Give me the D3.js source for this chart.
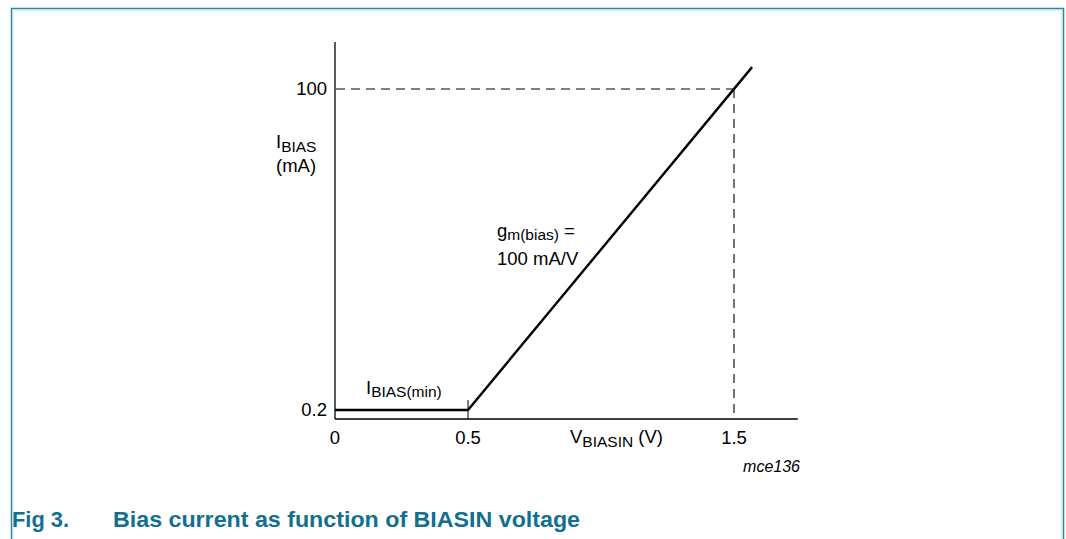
<!DOCTYPE html>
<html>
<head>
<meta charset="utf-8">
<script src="https://cdn.jsdelivr.net/npm/d3@7"></script>
<style>
  html, body { margin: 0; padding: 0; background: #fff; }
  svg { display: block; font-family: "Liberation Sans", Arial, sans-serif; }
</style>
</head>
<body>
<svg id="chart" width="1066" height="539"></svg>
<script>
// Schematic curve: flat minimum then 100 mA/V ramp
const curveV = [0, 0.5, 1.568];
const curveI = [0.2, 0.2, 106.8];
const xTicks = [0, 0.5, 1.5];
const xTickLabels = ['0', '0.5', '1.5'];
const yTicks = [0.2, 100];
const yTickLabels = ['0.2', '100'];
const markV = 1.5;   // dashed reference point
const markI = 100;

const svg = d3.select('#chart');
const FS = 18.5, SUB = 15.5;

// outer frame
svg.append('path')
  .attr('d', 'M11.5,539 L11.5,8.5 L1063.5,8.5 L1063.5,539')
  .attr('fill', 'none').attr('stroke', '#2a88a4').attr('stroke-width', 1.5);
svg.append('path')
  .attr('d', 'M13,539 L13,10 L1062,10 L1062,539')
  .attr('fill', 'none').attr('stroke', '#bfe0ea').attr('stroke-width', 1);

// scales (schematic, not to scale at the bottom)
const x = d3.scaleLinear().domain([0, 1.5]).range([335, 734]);
const y = d3.scaleLinear().domain([0.2, 100]).range([410, 89]);

const axisY = 419;
const g = svg.append('g');

// axes
g.append('line').attr('x1', 335).attr('x2', 335).attr('y1', 42).attr('y2', axisY)
  .attr('stroke', '#000').attr('stroke-width', 1.3);
g.append('line').attr('x1', 335).attr('x2', x(1.74)).attr('y1', axisY).attr('y2', axisY)
  .attr('stroke', '#000').attr('stroke-width', 1.3);

// small tick at 0.5
g.append('line').attr('x1', x(0.5)).attr('x2', x(0.5)).attr('y1', 400).attr('y2', axisY)
  .attr('stroke', '#000').attr('stroke-width', 1);

// dashed reference lines
g.append('line').attr('x1', 336).attr('x2', x(markV)).attr('y1', y(markI)).attr('y2', y(markI))
  .attr('stroke', '#000').attr('stroke-width', 1.1).attr('stroke-dasharray', '9,6');
g.append('line').attr('x1', x(markV)).attr('x2', x(markV)).attr('y1', y(markI)).attr('y2', axisY)
  .attr('stroke', '#000').attr('stroke-width', 1.1).attr('stroke-dasharray', '9,6');

// curve
const pts = curveV.map((v, i) => [x(v), y(curveI[i])]);
g.append('path')
  .attr('d', d3.line()(pts))
  .attr('fill', 'none').attr('stroke', '#000').attr('stroke-width', 2.4);

// tick labels
g.selectAll('.xt').data(xTicks).enter().append('text')
  .attr('x', d => x(d)).attr('y', 444)
  .attr('text-anchor', 'middle').attr('font-size', FS)
  .text((d, i) => xTickLabels[i]);
g.selectAll('.yt').data(yTicks).enter().append('text')
  .attr('x', 327).attr('y', d => y(d) + 6)
  .attr('text-anchor', 'end').attr('font-size', FS)
  .text((d, i) => yTickLabels[i]);

// y label
const yl = g.append('text').attr('x', 276).attr('y', 148).attr('font-size', FS);
yl.append('tspan').text('I');
yl.append('tspan').attr('font-size', SUB).attr('dy', 4).text('BIAS');
g.append('text').attr('x', 276).attr('y', 172).attr('font-size', FS).text('(mA)');

// x label
const xl = g.append('text').attr('x', 570).attr('y', 443).attr('font-size', FS);
xl.append('tspan').text('V');
xl.append('tspan').attr('font-size', SUB).attr('dy', 4).text('BIASIN');
xl.append('tspan').attr('dy', -4).text(' (V)');

// I_BIAS(min)
const il = g.append('text').attr('x', 366).attr('y', 394).attr('font-size', FS);
il.append('tspan').text('I');
il.append('tspan').attr('font-size', SUB).attr('dy', 3).text('BIAS(min)');

// gm annotation
const gl = g.append('text').attr('x', 497).attr('y', 237).attr('font-size', FS);
gl.append('tspan').text('g');
gl.append('tspan').attr('font-size', SUB).attr('dy', 3).text('m(bias)');
gl.append('tspan').attr('dy', -3).text(' =');
g.append('text').attr('x', 497).attr('y', 265).attr('font-size', FS).text('100 mA/V');

// figure code
g.append('text').attr('x', 800).attr('y', 472).attr('text-anchor', 'end')
  .attr('font-size', 16).attr('font-style', 'italic').text('mce136');

// caption
const cap = svg.append('text').attr('y', 527).attr('font-size', 22)
  .attr('font-weight', 'bold').attr('fill', '#126f8e');
cap.append('tspan').attr('x', 12).attr('textLength', 57).attr('lengthAdjust', 'spacingAndGlyphs').text('Fig 3.');
cap.append('tspan').attr('x', 113).attr('textLength', 467).attr('lengthAdjust', 'spacingAndGlyphs')
  .text('Bias current as function of BIASIN voltage');
</script>
</body>
</html>
